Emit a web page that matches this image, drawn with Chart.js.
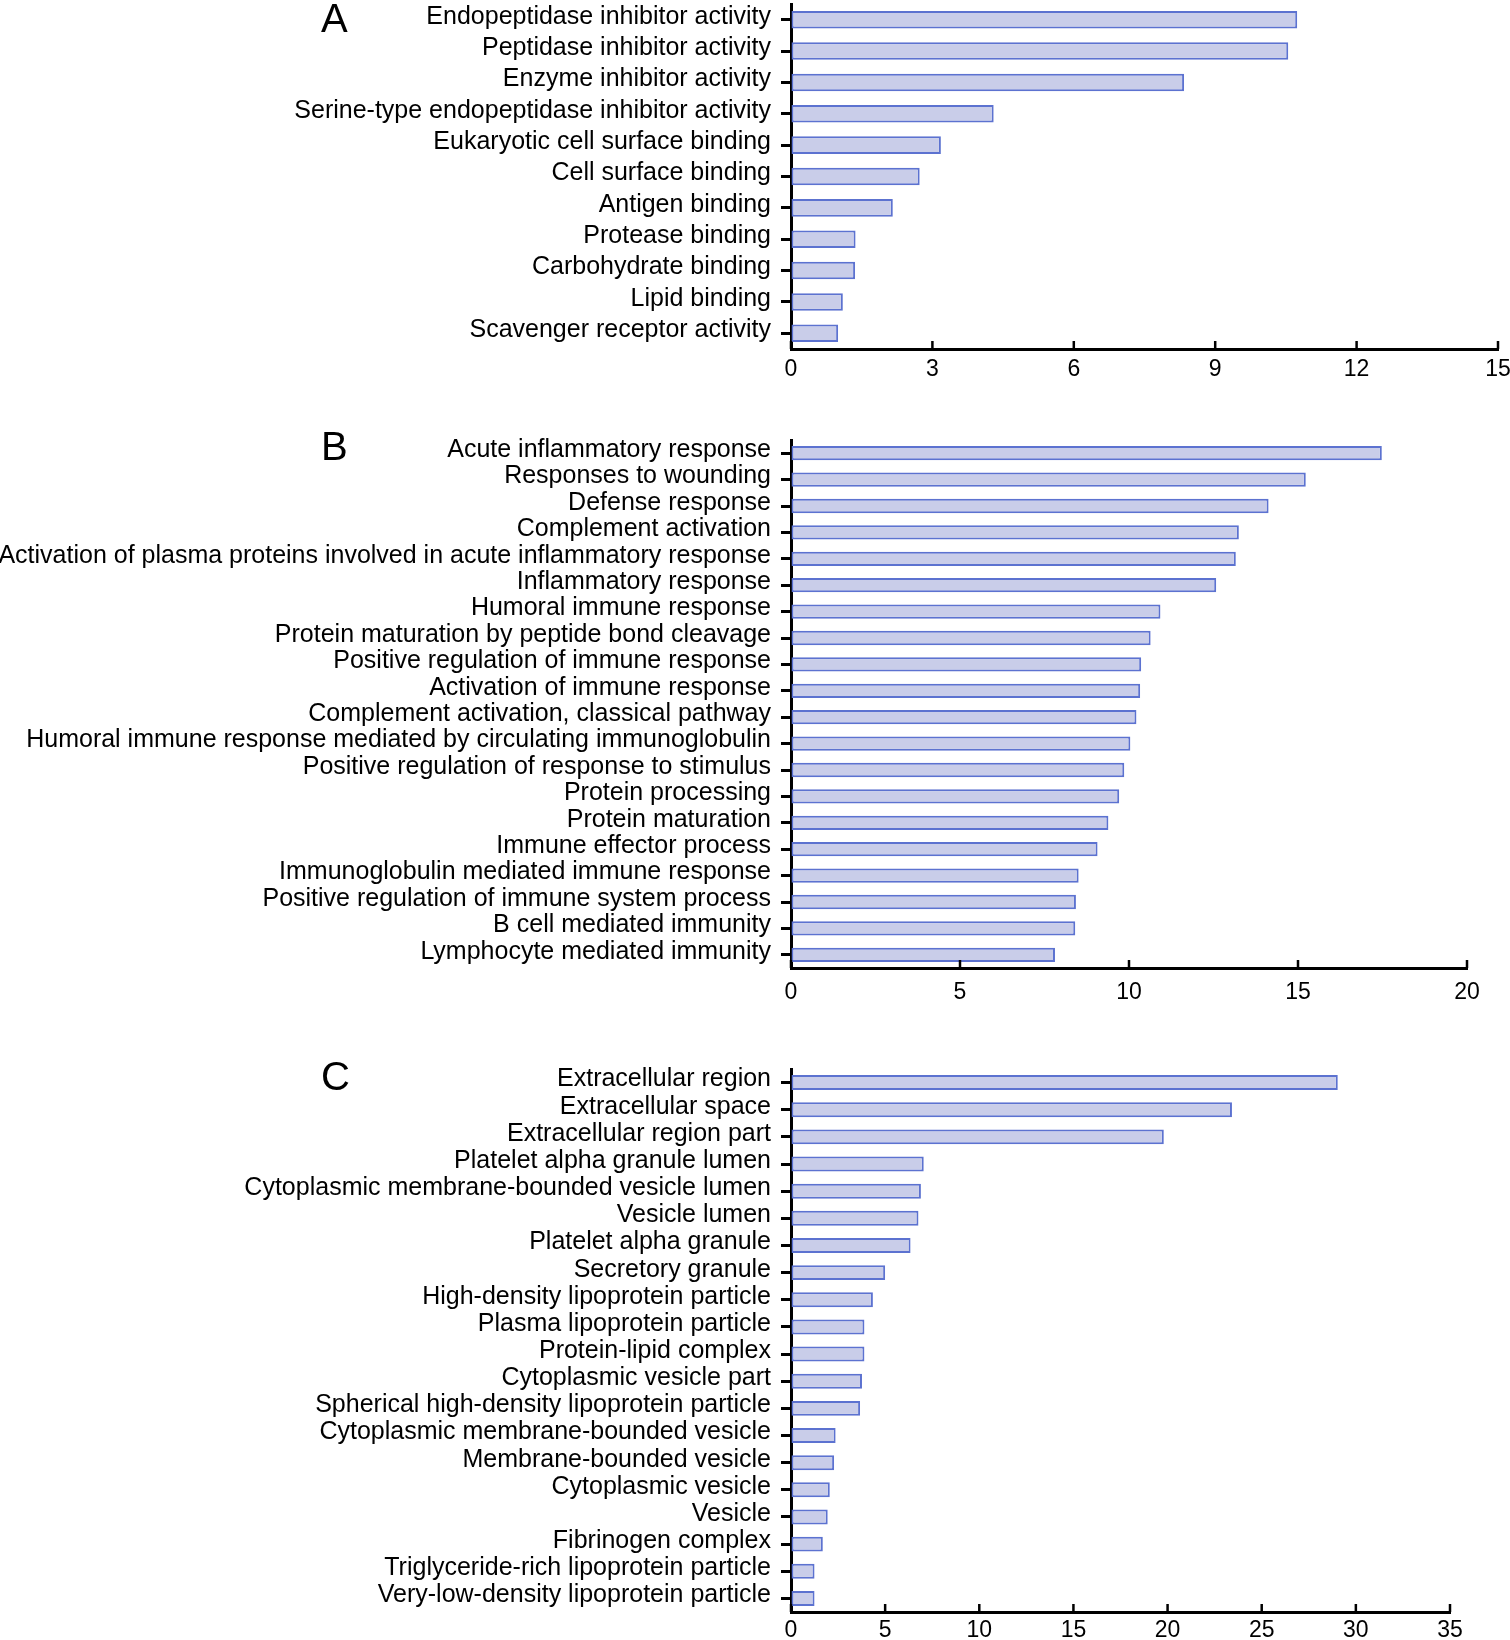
<!DOCTYPE html>
<html>
<head>
<meta charset="utf-8">
<script src="https://cdn.jsdelivr.net/npm/chart.js@4"></script>
<style>
html,body{margin:0;padding:0;background:#fff;overflow:hidden;width:1510px;height:1640px;}
.wrap{position:absolute;left:0;width:1510px;}
.letter{position:absolute;font-family:"Liberation Sans",Arial,sans-serif;font-size:40px;color:#000;line-height:1;}
</style>
</head>
<body>
<div class="wrap" style="top:0;height:400px;"><canvas id="cA"></canvas></div>
<div class="wrap" style="top:400px;height:640px;"><canvas id="cB"></canvas></div>
<div class="wrap" style="top:1040px;height:600px;"><canvas id="cC"></canvas></div>
<div class="letter" style="left:321px;top:-2px;">A</div>
<div class="letter" style="left:321px;top:426px;">B</div>
<div class="letter" style="left:321px;top:1056px;">C</div>
<script>
const labelsA = [
  "Endopeptidase inhibitor activity",
  "Peptidase inhibitor activity",
  "Enzyme inhibitor activity",
  "Serine-type endopeptidase inhibitor activity",
  "Eukaryotic cell surface binding",
  "Cell surface binding",
  "Antigen binding",
  "Protease binding",
  "Carbohydrate binding",
  "Lipid binding",
  "Scavenger receptor activity"
];
const valuesA = [10.74, 10.55, 8.34, 4.30, 3.18, 2.73, 2.16, 1.37, 1.36, 1.10, 1.00];
const ticksA = [0, 3, 6, 9, 12, 15];

const labelsB = [
  "Acute inflammatory response",
  "Responses to wounding",
  "Defense response",
  "Complement activation",
  "Activation of plasma proteins involved in acute inflammatory response",
  "Inflammatory response",
  "Humoral immune response",
  "Protein maturation by peptide bond cleavage",
  "Positive regulation of immune response",
  "Activation of immune response",
  "Complement activation, classical pathway",
  "Humoral immune response mediated by circulating immunoglobulin",
  "Positive regulation of response to stimulus",
  "Protein processing",
  "Protein maturation",
  "Immune effector process",
  "Immunoglobulin mediated immune response",
  "Positive regulation of immune system process",
  "B cell mediated immunity",
  "Lymphocyte mediated immunity"
];
const valuesB = [17.48, 15.23, 14.13, 13.25, 13.16, 12.58, 10.93, 10.64, 10.36, 10.33,
                 10.22, 10.04, 9.86, 9.71, 9.39, 9.07, 8.51, 8.43, 8.41, 7.81];
const ticksB = [0, 5, 10, 15, 20];

const labelsC = [
  "Extracellular region",
  "Extracellular space",
  "Extracellular region part",
  "Platelet alpha granule lumen",
  "Cytoplasmic membrane-bounded vesicle lumen",
  "Vesicle lumen",
  "Platelet alpha granule",
  "Secretory granule",
  "High-density lipoprotein particle",
  "Plasma lipoprotein particle",
  "Protein-lipid complex",
  "Cytoplasmic vesicle part",
  "Spherical high-density lipoprotein particle",
  "Cytoplasmic membrane-bounded vesicle",
  "Membrane-bounded vesicle",
  "Cytoplasmic vesicle",
  "Vesicle",
  "Fibrinogen complex",
  "Triglyceride-rich lipoprotein particle",
  "Very-low-density lipoprotein particle"
];
const valuesC = [29.04, 23.42, 19.80, 7.05, 6.90, 6.77, 6.35, 5.00, 4.35, 3.90,
                 3.90, 3.77, 3.67, 2.37, 2.29, 2.06, 1.95, 1.69, 1.25, 1.25];
const ticksC = [0, 5, 10, 15, 20, 25, 30, 35];

const FONT = '"Liberation Sans", Arial, Helvetica, sans-serif';
const AXIS_LEFT = 791;

// short upward tick marks on the x axis at each tick value
const upTicks = {
  id: 'upTicks',
  afterDraw(chart) {
    const sx = chart.scales.x;
    const ctx = chart.ctx;
    const yb = chart.chartArea.bottom;
    ctx.save();
    ctx.strokeStyle = '#000';
    ctx.lineWidth = 2.5;
    sx.ticks.forEach(t => {
      const px = sx.getPixelForValue(t.value);
      ctx.beginPath();
      ctx.moveTo(px, yb);
      ctx.lineTo(px, yb - 8);
      ctx.stroke();
    });
    ctx.restore();
  }
};

function makeChart(id, labels, values, tickVals, opts) {
  const max = tickVals[tickVals.length - 1];
  new Chart(document.getElementById(id), {
    type: 'bar',
    data: {
      labels: labels,
      datasets: [{
        data: values,
        backgroundColor: '#c9cde9',
        borderColor: '#5c72d0',
        borderWidth: 2,
        borderSkipped: false,
        barPercentage: opts.barPct,
        categoryPercentage: 1.0
      }]
    },
    options: {
      indexAxis: 'y',
      responsive: true,
      maintainAspectRatio: false,
      animation: false,
      layout: { padding: { top: opts.padTop, right: opts.padRight, left: 0, bottom: 0 } },
      plugins: { legend: { display: false }, tooltip: { enabled: false } },
      scales: {
        x: {
          type: 'linear',
          min: 0,
          max: max,
          afterBuildTicks(scale) { scale.ticks = tickVals.map(v => ({ value: v })); },
          afterFit(scale) { scale.height = opts.xHeight; scale.paddingRight = 0; scale.paddingLeft = 0; },
          grid: { display: true, drawOnChartArea: false, drawTicks: false },
          border: { display: true, color: '#000', width: 3 },
          ticks: {
            padding: opts.xPad,
            color: '#000',
            font: { family: FONT, size: 23 }
          }
        },
        y: {
          afterFit(scale) { scale.width = AXIS_LEFT; scale.paddingTop = 0; scale.paddingBottom = 0; },
          grid: {
            display: true,
            offset: false,
            drawOnChartArea: false,
            drawTicks: true,
            tickLength: 10,
            tickWidth: 3,
            tickColor: '#000'
          },
          border: { display: true, color: '#000', width: 3 },
          ticks: {
            autoSkip: false,
            padding: 10,
            labelOffset: -3,
            color: '#000',
            font: { family: FONT, size: 25 }
          }
        }
      }
    },
    plugins: [upTicks]
  });
}

makeChart('cA', labelsA, valuesA, ticksA, { padTop: 4, padRight: 12, xHeight: 51, xPad: 7, barPct: 0.56 });
makeChart('cB', labelsB, valuesB, ticksB, { padTop: 40, padRight: 43, xHeight: 72, xPad: 11, barPct: 0.54 });
makeChart('cC', labelsC, valuesC, ticksC, { padTop: 29, padRight: 60, xHeight: 28, xPad: 5, barPct: 0.55 });
</script>
</body>
</html>
